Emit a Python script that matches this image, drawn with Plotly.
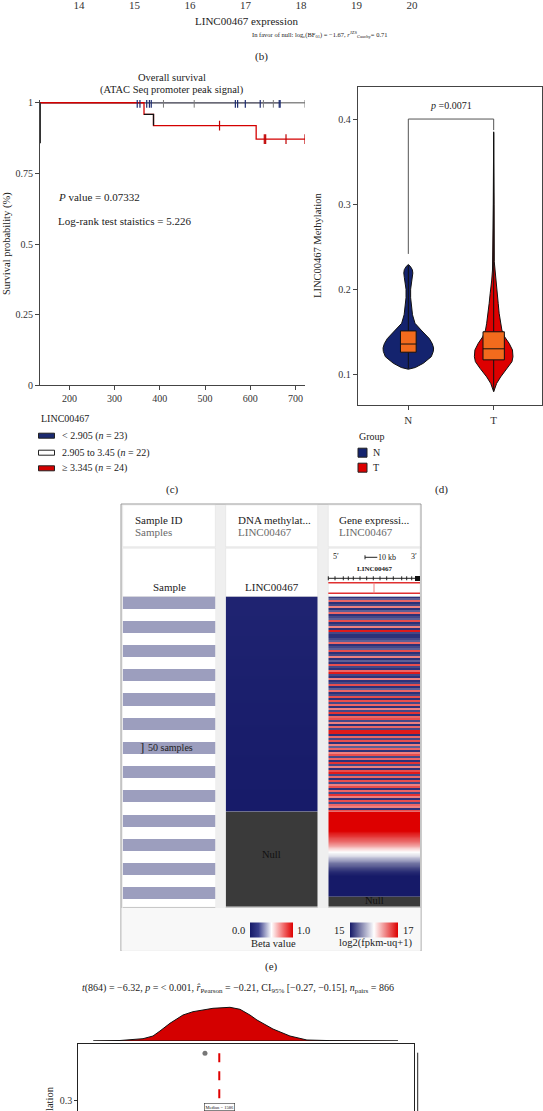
import plotly.graph_objects as go

W, H = 543, 1111
FONT = "Liberation Serif"


def fx(p):
    return p / W


def fy(p):
    return 1 - p / H


# ---------------- data ----------------
# panel (b) axis ticks
b_ticks = [14, 15, 16, 17, 18, 19, 20]

# panel (c) survival
surv_low_t = [135, 666]
surv_low_s = [1, 1]
surv_mid_t = [135, 721]
surv_mid_s = [1, 1]
surv_high_t = [135, 365, 386, 613, 721]
surv_high_s = [1, 0.959, 0.919, 0.871, 0.871]
surv_dark_t = [365, 386]
surv_dark_s = [0.959, 0.919]
cens_low_t = [350, 356, 371, 377, 381, 567, 572, 589, 622, 664, 666]
cens_mid_t = [408, 476, 629, 651, 721]
cens_high_t = [532, 631, 634, 679, 721]
cens_high_s = [0.919, 0.871, 0.871, 0.871, 0.871]
surv_yticks = [0, 0.25, 0.5, 0.75, 1]
surv_yticktext = ["0", "0.25", "0.5", "0.75", "1"]
surv_xticks = [200, 300, 400, 500, 600, 700]
surv_groups = ["< 2.905 (<i>n</i> = 23)", "2.905 to 3.45 (<i>n</i> = 22)", "≥ 3.345 (<i>n</i> = 24)"]
surv_colors = ["#1b2a70", "#ffffff", "#d40000"]

# panel (d) violin (value, half-width in category units)
groups = ["N", "T"]
vio_N_y = [0.106, 0.108, 0.113, 0.1207, 0.127, 0.131, 0.136, 0.142, 0.152, 0.160,
           0.170, 0.180, 0.190, 0.200, 0.208, 0.214, 0.219, 0.223, 0.227, 0.229]
vio_N_w = [0, 0.082, 0.176, 0.269, 0.293, 0.296, 0.281, 0.246, 0.150, 0.078,
           0.049, 0.035, 0.027, 0.027, 0.035, 0.047, 0.053, 0.047, 0.023, 0]
vio_T_y = [0.0796, 0.0894, 0.097, 0.107, 0.1148, 0.1207, 0.1286, 0.1364, 0.144, 0.152,
           0.160, 0.1717, 0.1834, 0.195, 0.207, 0.2108, 0.2226, 0.2323, 0.30, 0.385]
vio_T_w = [0, 0.035, 0.082, 0.160, 0.214, 0.226, 0.220, 0.181, 0.129, 0.096,
           0.082, 0.064, 0.053, 0.041, 0.029, 0.023, 0.014, 0.007, 0.005, 0]
box_q1 = [0.126, 0.117]
box_med = [0.1356, 0.130]
box_q3 = [0.151, 0.150]
box_lo = [0.107, 0.080]
box_hi = [0.228, 0.384]
box_width = [0.184, 0.25]
vio_colors = ["#14236e", "#dd0000"]
vio_yticks = [0.1, 0.2, 0.3, 0.4]
p_text = "<i>p</i> =0.0071"
bracket_y = 0.4
bracket_left_end = 0.2415
bracket_right_end = 0.387

# panel (e) Xena-like heatmap
n_total = 1280
band = 50
sample_bands = [1 if i % 2 == 0 else 0 for i in range(26)]
n_meth = 888
meth_vals = [0.05, 0.045, 0.04, 0.035, 0.03, 0.026, 0.022, 0.018, 0.015, 0.012, 0.009, 0.006]
expr_stripes = [15.1, 15.3, 16.6, 15.1, 15.2, 16.5, 15.1, 15.3, 16.6, 15.1, 15.2, 15.3, 16.7, 15.1, 15.2, 16.5, 15.1, 16.9, 15.2, 15.1,
                15.1, 15.2, 15.3, 16.6, 15.1, 15.2, 15.3, 16.7, 15.1, 15.2, 16.5, 15.1, 15.3, 15.1, 16.7, 15.2, 15.1, 16.6, 16.9, 15.2,
                15.1, 16.5, 15.1, 15.2, 16.7, 15.1, 15.3, 16.6, 15.1, 15.2, 16.7, 15.1,
                16.7, 15.2, 16.6, 15.1, 16.5, 15.2, 16.8, 15.1, 16.6, 16.7, 15.2, 16.5, 15.1, 16.6, 15.2, 16.9, 16.9, 15.1, 16.6, 15.2,
                16.7, 15.1, 16.5, 15.3, 16.6, 15.1, 16.5, 16.7, 15.2, 16.6, 15.1, 16.8, 15.2, 16.5, 15.1, 16.7, 16.9, 15.2, 16.6, 15.1,
                16.7, 15.2, 16.5, 16.7, 15.1, 16.6, 15.2, 16.8, 16.5, 15.1, 16.7, 15.2, 16.6, 16.5, 15.1, 16.7]
n_sorted = 351
expr_sorted = [17, 17, 17, 17, 17, 17, 17, 17, 16.9, 16.8, 16.7, 16.6, 16.5, 16.35, 16.2, 16.05, 15.95,
               15.85, 15.7, 15.55, 15.4, 15.3, 15.2, 15.1, 15.05, 15, 15, 15, 15, 15, 15, 15, 15, 15]
gene_ticks_px = [328.3, 335, 343.3, 348.3, 353.3, 360, 366.7, 373.3, 380, 386.7, 393.3, 401.7, 406.7, 411.7]

# panel (f)
f_xmax = 3780
dens_x = [169, 469, 728, 840, 919, 1031, 1178, 1290, 1515, 1706, 1819, 1931, 2010, 2190, 2381, 2572, 2831, 3596]
dens_h = [0, 0.5, 2.3, 5, 10, 17.7, 26, 29.3, 32.7, 33.7, 31.7, 26, 21, 12, 5, 1, 0.4, 0]
pt_x = [1425]
pt_y = [0.379]
median_val = 1586

# ---------------- figure ----------------
fig = go.Figure()

# (b) hidden trace to materialise the axis
fig.add_trace(go.Scatter(x=b_ticks, y=[0] * len(b_ticks), mode="none", xaxis="x", yaxis="y",
                         hoverinfo="skip", showlegend=False))

# (c) survival
lw = 1.3
fig.add_trace(go.Scatter(x=surv_mid_t, y=surv_mid_s, mode="lines", line=dict(color="#8a8a8a", width=lw, shape="hv"),
                         xaxis="x2", yaxis="y2", showlegend=False))
fig.add_trace(go.Scatter(x=surv_low_t, y=surv_low_s, mode="lines", line=dict(color="#6a6a78", width=lw, shape="hv"),
                         xaxis="x2", yaxis="y2", showlegend=False))
fig.add_trace(go.Scatter(x=surv_high_t, y=surv_high_s, mode="lines", line=dict(color="#d40000", width=lw, shape="hv"),
                         xaxis="x2", yaxis="y2", showlegend=False))
fig.add_trace(go.Scatter(x=surv_dark_t, y=surv_dark_s, mode="lines", line=dict(color="#111111", width=lw, shape="hv"),
                         xaxis="x2", yaxis="y2", showlegend=False))
fig.add_trace(go.Scatter(x=cens_mid_t, y=[1] * len(cens_mid_t), mode="markers",
                         marker=dict(symbol="line-ns", size=7, line=dict(width=1, color="#7a7a7a")),
                         xaxis="x2", yaxis="y2", showlegend=False))
fig.add_trace(go.Scatter(x=cens_low_t, y=[1] * len(cens_low_t), mode="markers",
                         marker=dict(symbol="line-ns", size=7, line=dict(width=1.2, color="#1b2a70")),
                         xaxis="x2", yaxis="y2", showlegend=False))
fig.add_trace(go.Scatter(x=cens_high_t, y=cens_high_s, mode="markers",
                         marker=dict(symbol="line-ns", size=7, line=dict(width=1.2, color="#c00000")),
                         xaxis="x2", yaxis="y2", showlegend=False))

# (d) violins
for i, (vy, vw) in enumerate([(vio_N_y, vio_N_w), (vio_T_y, vio_T_w)]):
    xs = [i + w for w in vw] + [i - w for w in vw[::-1]] + [i + vw[0]]
    ys = vy + vy[::-1] + [vy[0]]
    fig.add_trace(go.Scatter(x=xs, y=ys, mode="lines", fill="toself", fillcolor=vio_colors[i],
                             line=dict(color="#111111", width=1), xaxis="x3", yaxis="y3", showlegend=False))
# boxes (from precomputed statistics)
for i in range(2):
    h = box_width[i] / 2
    fig.add_trace(go.Scatter(x=[i, i, None, i, i], y=[box_lo[i], box_q1[i], None, box_q3[i], box_hi[i]],
                             mode="lines", line=dict(color="#111111", width=1), xaxis="x3", yaxis="y3",
                             showlegend=False))
    fig.add_trace(go.Scatter(x=[i - h, i + h, i + h, i - h, i - h],
                             y=[box_q1[i], box_q1[i], box_q3[i], box_q3[i], box_q1[i]],
                             mode="lines", fill="toself", fillcolor="#f26b1d", line=dict(color="#111111", width=1),
                             xaxis="x3", yaxis="y3", showlegend=False))
    fig.add_trace(go.Scatter(x=[i - h, i + h], y=[box_med[i], box_med[i]], mode="lines",
                             line=dict(color="#111111", width=1), xaxis="x3", yaxis="y3", showlegend=False))
fig.add_trace(go.Scatter(x=[0, 0, 1, 1], y=[bracket_left_end, bracket_y, bracket_y, bracket_right_end], mode="lines",
                         line=dict(color="#555555", width=1), xaxis="x3", yaxis="y3", showlegend=False))

# (e) heatmaps
fig.add_trace(go.Heatmap(z=[[v] for v in sample_bands], x=[0],
                         y=[band * i + band / 2 for i in range(len(sample_bands))],
                         zmin=0, zmax=1, colorscale=[[0, "#ffffff"], [1, "#9c9ebe"]], showscale=False,
                         xaxis="x4", yaxis="y4", hoverinfo="skip"))
mh = n_meth / len(meth_vals)
meth_scale = [[0, "#161a68"], [0.2, "#3a3f8c"], [0.5, "#ffffff"], [0.8, "#f06060"], [1, "#dd0000"]]
fig.add_trace(go.Heatmap(z=[[v] for v in meth_vals], x=[0], y=[mh * i + mh / 2 for i in range(len(meth_vals))],
                         zmin=0, zmax=1, colorscale=meth_scale, zsmooth="best",
                         showscale=True,
                         colorbar=dict(orientation="h", x=fx(271.3), xanchor="center", y=fy(930), yanchor="middle",
                                       len=43, lenmode="pixels", thickness=15, outlinewidth=0, showticklabels=False,
                                       ticks="", xpad=0, ypad=0),
                         xaxis="x5", yaxis="y4", hoverinfo="skip"))
expr_scale = [[0, "#161a68"], [0.5, "#ffffff"], [1, "#dd0000"]]
sh = n_meth / len(expr_stripes)
fig.add_trace(go.Heatmap(z=[[v] for v in expr_stripes], x=[0], y=[sh * i + sh / 2 for i in range(len(expr_stripes))],
                         zmin=15, zmax=17, colorscale=expr_scale,
                         showscale=True,
                         colorbar=dict(orientation="h", x=fx(374.2), xanchor="center", y=fy(930), yanchor="middle",
                                       len=48, lenmode="pixels", thickness=15, outlinewidth=0, showticklabels=False,
                                       ticks="", xpad=0, ypad=0),
                         xaxis="x6", yaxis="y4", hoverinfo="skip"))
gh = n_sorted / len(expr_sorted)
fig.add_trace(go.Heatmap(z=[[v] for v in expr_sorted], x=[0],
                         y=[n_meth + gh * i + gh / 2 for i in range(len(expr_sorted))],
                         zmin=15, zmax=17, colorscale=expr_scale, zsmooth="best", showscale=False,
                         xaxis="x6", yaxis="y4", hoverinfo="skip"))

# (f) marginal density + scatter
fig.add_trace(go.Scatter(x=dens_x + [dens_x[0]], y=dens_h + [dens_h[0]], mode="lines", fill="toself",
                         fillcolor="#d40000", line=dict(color="#111111", width=1), xaxis="x7", yaxis="y7",
                         showlegend=False))
fig.add_trace(go.Scatter(x=pt_x, y=pt_y, mode="markers", marker=dict(color="#777777", size=5),
                         xaxis="x8", yaxis="y8", showlegend=False))

# ---------------- layout ----------------
axis_font = dict(family=FONT, size=10, color="#333333")
hidden = dict(visible=False)

layout = dict(
    width=W, height=H, margin=dict(l=0, r=0, t=0, b=0, autoexpand=False),
    paper_bgcolor="white", plot_bgcolor="rgba(0,0,0,0)",
    font=dict(family=FONT, size=10, color="#222222"),
    showlegend=False,
    # (b)
    xaxis=dict(domain=[fx(79), fx(412)], range=[14, 20], tickvals=b_ticks, showline=False, showgrid=False,
               zeroline=False, ticks="", tickfont=dict(family=FONT, size=11, color="#333"), anchor="y",
               automargin=False),
    yaxis=dict(domain=[fy(1), 1], visible=False, anchor="x"),
    # (c)
    xaxis2=dict(domain=[fx(40), fx(305)], range=[135, 721], tickvals=surv_xticks, showline=True, linecolor="#444",
                linewidth=1, ticks="outside", ticklen=4, tickcolor="#444", showgrid=False, zeroline=False,
                tickfont=axis_font, anchor="y2", automargin=False),
    yaxis2=dict(domain=[fy(385.3), fy(99.9)], range=[0, 1.01], tickvals=surv_yticks, ticktext=surv_yticktext,
                showline=True, linecolor="#444", linewidth=1, ticks="outside", ticklen=4, tickcolor="#444",
                showgrid=False, zeroline=False, tickfont=axis_font, anchor="x2", automargin=False),
    # (d)
    xaxis3=dict(domain=[fx(357.7), fx(542)], range=[-0.593, 1.566], tickvals=[0, 1], ticktext=groups,
                showline=True, mirror=True, linecolor="#444", linewidth=1, ticks="outside", ticklen=4,
                tickcolor="#444", showgrid=False, zeroline=False, tickfont=dict(family=FONT, size=11, color="#333"),
                anchor="y3", automargin=False),
    yaxis3=dict(domain=[fy(405.3), fy(87.3)], range=[0.0636, 0.4373], tickvals=vio_yticks,
                showline=True, mirror=True, linecolor="#444", linewidth=1, ticks="outside", ticklen=4,
                tickcolor="#444", showgrid=False, zeroline=False, tickfont=axis_font, anchor="x3",
                automargin=False),
    # (e)
    xaxis4=dict(domain=[fx(122.7), fx(215.3)], range=[-0.5, 0.5], anchor="y4", **hidden),
    xaxis5=dict(domain=[fx(225.7), fx(317.7)], range=[-0.5, 0.5], anchor="y4", **hidden),
    xaxis6=dict(domain=[fx(328.3), fx(420)], range=[-0.5, 0.5], anchor="y4", **hidden),
    yaxis4=dict(domain=[fy(906.7), fy(596.5)], range=[n_total, 0], anchor="x4", **hidden),
    # (f)
    xaxis7=dict(domain=[fx(78.3), fx(414.3)], range=[0, f_xmax], anchor="y7", **hidden),
    yaxis7=dict(domain=[fy(1041), fy(1003)], range=[0, 38], anchor="x7", **hidden),
    xaxis8=dict(domain=[fx(78.3), fx(414.3)], range=[0, f_xmax], side="top", showline=True, linecolor="#222",
                linewidth=1, ticks="", showticklabels=False, showgrid=False, zeroline=False, anchor="y8",
                automargin=False),
    yaxis8=dict(domain=[0, fy(1044)], range=[0.2828, 0.3945], tickvals=[0.3], showline=True, mirror=True,
                linecolor="#222", linewidth=1, ticks="outside", ticklen=3, tickcolor="#333", showgrid=False,
                zeroline=False, tickfont=axis_font, anchor="x8", automargin=False),
)

shapes = []
annotations = []


def ann(x, y, text, size=10, xanchor="center", yanchor="middle", color="#222222", **kw):
    annotations.append(dict(xref="paper", yref="paper", x=fx(x), y=fy(y), text=text, showarrow=False,
                            font=dict(size=size, color=color, family=FONT), xanchor=xanchor, yanchor=yanchor,
                            borderpad=0, **kw))


def rect(x0, y0, x1, y1, fill, line=None, lw=0, layer="below"):
    shapes.append(dict(type="rect", xref="paper", yref="paper", x0=fx(x0), x1=fx(x1), y0=fy(y1), y1=fy(y0),
                       fillcolor=fill, line=dict(color=line or fill, width=lw), layer=layer))


def line(x0, y0, x1, y1, color, w=1, dash=None, layer="above"):
    d = dict(type="line", xref="paper", yref="paper", x0=fx(x0), x1=fx(x1), y0=fy(y0), y1=fy(y1),
             line=dict(color=color, width=w), layer=layer)
    if dash:
        d["line"]["dash"] = dash
    shapes.append(d)


# (b) texts
ann(246, 21, "LINC00467 expression", size=11)
ann(251, 35, "In favor of null: log<sub>e</sub>(BF<sub>01</sub>) = −1.67, <i>r</i><sup>JZS</sup><sub>Cauchy</sub>= 0.71",
    size=6.5, xanchor="left")
ann(261, 57, "(b)", size=11)

# (c) texts
ann(172, 78, "Overall survival", size=10.5)
ann(172, 90, "(ATAC Seq promoter peak signal)", size=10.5)
ann(56.7, 197.3, "<i>P</i> value = 0.07332", size=11, xanchor="left")
ann(56.7, 220.7, "Log-rank test staistics = 5.226", size=11, xanchor="left")
ann(7, 244, "Survival probability (%)", size=10.5, textangle=-90)
shapes.append(dict(type="line", xref="x2", yref="y2", x0=135, x1=135, y0=0.857, y1=1.0,
                   line=dict(color="#333333", width=2)))
ann(40, 418.7, "LINC00467", size=10, xanchor="left")
for i, (lab, col) in enumerate(zip(surv_groups, surv_colors)):
    yy = [435.7, 452.7, 468.3][i]
    rect(38.5, yy - 2.5, 54.5, yy + 2.5, col, line="#222", lw=1, layer="above")
    ann(61, yy, lab, size=10, xanchor="left")
ann(172, 489, "(c)", size=11)

# (d) texts
annotations.append(dict(xref="x3", yref="y3", x=0.5, y=0.4163, text=p_text, showarrow=False,
                        font=dict(family=FONT, size=10, color="#222")))
ann(318, 246, "LINC00467 Methylation", size=10.5, textangle=-90)
ann(358, 436.7, "Group", size=10, xanchor="left")
for i, g in enumerate(groups):
    yy = [452.7, 467.7][i]
    rect(358, yy - 4.5, 367, yy + 4.5, vio_colors[i], line="#222", lw=1, layer="above")
    ann(372, yy, g, size=10, xanchor="left")
ann(441, 489, "(d)", size=11)

# (e) panel frame and column boxes
rect(121, 504, 421, 951, "#efefef")
line(121, 504, 421, 504, "#9a9a9a", 1, layer="below")
line(121, 504, 121, 951, "#9a9a9a", 1, layer="below")
line(421, 504, 421, 951, "#9a9a9a", 1, layer="below")
rect(121.5, 908, 420.5, 950.5, "#f8f8f8")
for (c0, c1) in [(122.7, 215.3), (225.7, 317.7), (328.3, 420)]:
    rect(c0, 505, c1, 546.7, "#ffffff", line="#dddddd", lw=0.5)
    rect(c0, 548.2, c1, 596.5, "#ffffff", line="#dddddd", lw=0.5)
    line(c0, 907.5, c1, 907.5, "#c8c8c8", 1.2, layer="below")
ann(134, 520, "Sample ID", size=11, xanchor="left")
ann(134, 532.3, "Samples", size=11, xanchor="left", color="#6a6a6a")
ann(236.7, 520, "DNA methylat...", size=11, xanchor="left")
ann(236.7, 532.3, "LINC00467", size=11, xanchor="left", color="#6a6a6a")
ann(337.7, 520, "Gene expressi...", size=11, xanchor="left")
ann(337.7, 532.3, "LINC00467", size=11, xanchor="left", color="#6a6a6a")
ann(169, 587, "Sample", size=11)
ann(271.7, 587, "LINC00467", size=11)
# gene model
ann(335.5, 556.5, "5′", size=8)
ann(414, 556.5, "3′", size=8)
line(365, 557.3, 377.3, 557.3, "#222", 1)
line(365, 555.3, 365, 559.3, "#222", 1)
ann(377, 557.3, "10 kb", size=8, xanchor="left")
ann(375, 569.3, "<b>LINC00467</b>", size=7)
line(328.3, 578.3, 415, 578.3, "#222", 1)
for gx in gene_ticks_px:
    line(gx, 576.3, gx, 580.3, "#222", 1)
rect(415, 576, 420, 581, "#111111", layer="above")
line(328.3, 582.7, 420, 582.7, "#e03030", 1.5)
line(328.3, 593.3, 420, 593.3, "#e03030", 1.5)
line(374, 582.7, 374, 593.3, "#f08080", 1)
# sample bracket
ann(141.7, 747.3, "]", size=13)
ann(146.5, 747.3, "50 samples", size=10, xanchor="left")
# null regions
shapes.append(dict(type="rect", xref="x5", yref="y4", x0=-0.5, x1=0.5, y0=n_meth, y1=n_total,
                   fillcolor="#3a3a3a", line=dict(width=0)))
shapes.append(dict(type="rect", xref="x6", yref="y4", x0=-0.5, x1=0.5, y0=n_meth + n_sorted, y1=n_total,
                   fillcolor="#3a3a3a", line=dict(width=0)))
annotations.append(dict(xref="x5", yref="y4", x=0, y=(n_meth + n_total) / 2 - 20, text="Null", showarrow=False,
                        font=dict(family=FONT, size=10.5, color="#111")))
annotations.append(dict(xref="x6", yref="y4", x=0, y=(n_meth + n_sorted + n_total) / 2 - 5, text="Null",
                        showarrow=False, font=dict(family=FONT, size=10.5, color="#111")))
# colorbar labels
ann(246, 930, "0.0", size=10.5, xanchor="right")
ann(296, 930, "1.0", size=10.5, xanchor="left")
ann(273.3, 943.3, "Beta value", size=10.5)
ann(346, 930, "15", size=10.5, xanchor="right")
ann(402, 930, "17", size=10.5, xanchor="left")
ann(375, 943.3, "log2(fpkm-uq+1)", size=10.5)
ann(271, 966, "(e)", size=11)

# (f) texts
ann(238, 988.3, "<i>t</i>(864) = −6.32, <i>p</i> = < 0.001, <i>r̂</i><sub>Pearson</sub> = −0.21, "
    "CI<sub>95%</sub> [−0.27, −0.15], <i>n</i><sub>pairs</sub> = 866", size=10)
shapes.append(dict(type="line", xref="x8", yref="y8", x0=median_val, x1=median_val, y0=0.304, y1=0.391,
                   line=dict(color="#e00000", width=2, dash="dash")))
annotations.append(dict(xref="x8", yref="y8", x=median_val, y=0.290, text="Median = " + str(median_val),
                        showarrow=False, font=dict(family=FONT, size=4.5, color="#111"),
                        bgcolor="white", bordercolor="#333", borderwidth=0.6, borderpad=1))
ann(49.3, 1086, "LINC00467 Methylation", size=10.5, textangle=-90, yanchor="top")
line(417.7, 1052.7, 417.7, 1111, "#222", 1)

layout["shapes"] = shapes
layout["annotations"] = annotations
fig.update_layout(**layout)
try:
    fig.layout.xaxis.ticklabelstandoff = -4
except Exception:
    pass
fig.write_html("out.html", config={"displayModeBar": False, "staticPlot": True},
               post_script="document.body.style.margin='0';document.body.style.overflow='hidden';")
